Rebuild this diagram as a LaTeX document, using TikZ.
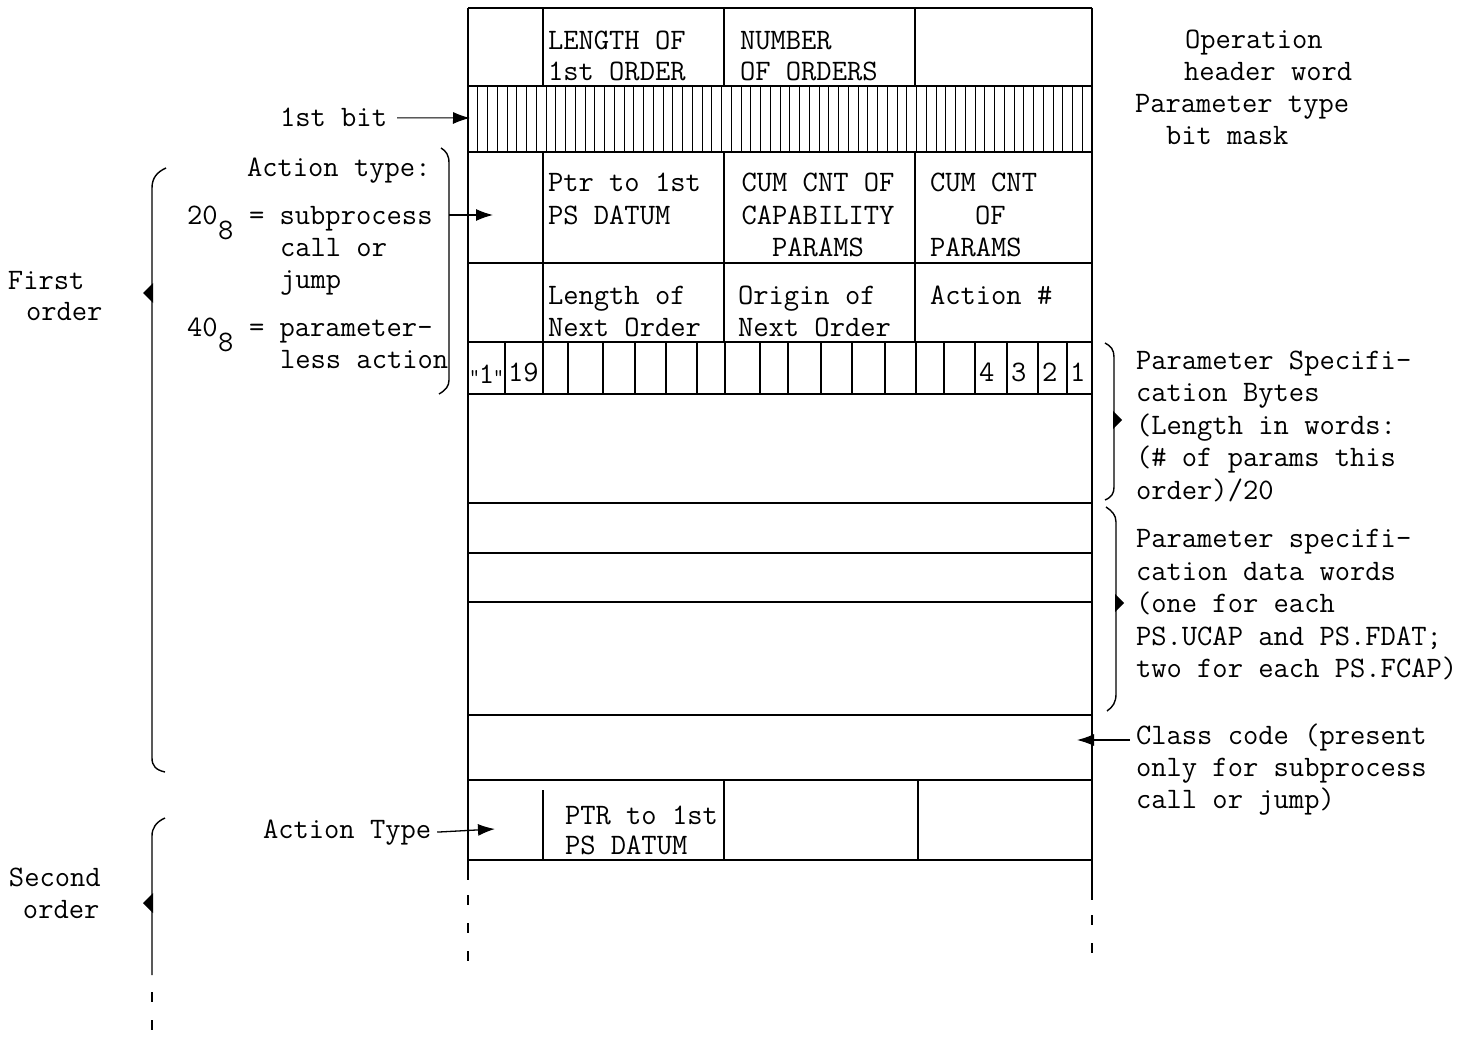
\documentclass[tikz,border=0pt]{standalone}
\usepackage{fontspec}
\usetikzlibrary{arrows.meta}
\begin{document}
\begin{tikzpicture}[x=1pt,y=-1pt,
  every node/.style={inner sep=0pt, outer sep=0pt},
  txt/.style={anchor=base west, font=\ttfamily\fontsize{29.7}{32}\selectfont},
  ctxt/.style={anchor=base, font=\ttfamily\fontsize{29.7}{32}\selectfont},
  rule/.style={line width=1.4pt},
  hair/.style={line width=1pt},
  tip/.style={-{Latex[length=17pt,width=12pt]}, line width=1.3pt},
  dashline/.style={line width=1.3pt, dash pattern=on 10pt off 18pt},
]
\useasboundingbox (0,0) rectangle (1481,1046);

% ---------- table frame ----------
\draw[rule] (468,8) -- (1092,8);
\foreach \yy in {86,152,263,342,394,503,553,602,715,780,860}
  \draw[rule] (468,\yy) -- (1092,\yy);
\draw[rule] (468,8) -- (468,880);
\draw[dashline] (468,895) -- (468,975);
\draw[rule] (1092,8) -- (1092,900);
\draw[dashline] (1092,915) -- (1092,962);

% column dividers
\foreach \xx in {543,724,915} {
  \draw[rule] (\xx,8) -- (\xx,86);
  \draw[rule] (\xx,152) -- (\xx,342);
}
\draw[rule] (543,790) -- (543,860);
\draw[rule] (724,780) -- (724,860);
\draw[rule] (918,780) -- (918,860);

% bit mask
\foreach \i in {1,...,63}
  \draw[hair] ({468+\i*9.75},86) -- ++(0,66);

% byte row
\foreach \xx in {505,543,568,603,635,666,697,725,760,788,821,852,885,916,944,975,1007,1038,1067}
  \draw[rule] (\xx,342) -- (\xx,394);

% ---------- table texts ----------
\node[txt] (h1a) at (548,50) {LENGTH OF};
\node[txt] (h1b) at (548,81) {1st ORDER};
\node[txt] (h2a) at (740,50) {NUMBER};
\node[txt] (h2b) at (740,81) {OF ORDERS};

\node[txt] (r3a) at (548,192) {Ptr to 1st};
\node[txt] (r3b) at (548,224) {PS DATUM};
\node[ctxt] (r3c) at (818,192) {CUM CNT OF};
\node[ctxt] (r3d) at (818,224) {CAPABILITY};
\node[ctxt] (r3e) at (818,256) {PARAMS};
\node[txt] (r3f) at (930,192) {CUM CNT};
\node[txt] (r3g) at (975,224) {OF};
\node[txt] (r3h) at (930,256) {PARAMS};

\node[txt] (r4a) at (548,304) {Length of};
\node[txt] (r4b) at (548,336) {Next Order};
\node[txt] (r4c) at (738,304) {Origin of};
\node[txt] (r4d) at (738,336) {Next Order};
\node[txt] (r4e) at (930,304) {Action \#};

\node[txt] (b20) at (469,383) {{\fontsize{21}{22}\selectfont"}\kern-1pt 1\kern-1pt{\fontsize{21}{22}\selectfont"}};
\node[txt] (b19) at (508,381) {19};
\node[txt] (b4) at (979,381) {4};
\node[txt] (b3) at (1011,381) {3};
\node[txt] (b2) at (1042,381) {2};
\node[txt] (b1) at (1070,381) {1};

\node[txt] (s2a) at (565,824) {PTR to 1st};
\node[txt] (s2b) at (565,854) {PS DATUM};

% ---------- right texts ----------
\node[txt] (op1) at (1185,49) {Operation};
\node[txt] (op2) at (1184,81) {header word};
\node[txt] (op3) at (1135,113) {Parameter type};
\node[txt] (op4) at (1166,145) {bit mask};

\node[txt] (psb1) at (1136,369) {Parameter Specifi-};
\node[txt] (psb2) at (1136,401) {cation Bytes};
\node[txt] (psb3) at (1136,434) {(Length in words:};
\node[txt] (psb4) at (1136,466) {(\# of params this};
\node[txt] (psb5) at (1136,499) {order)/20};

\node[txt] (psd1) at (1136,547) {Parameter specifi-};
\node[txt] (psd2) at (1136,580) {cation data words};
\node[txt] (psd3) at (1136,612) {(one for each};
\node[txt] (psd4) at (1136,645) {PS.UCAP and PS.FDAT;};
\node[txt] (psd5) at (1136,677) {two for each PS.FCAP)};

\node[txt] (cc1) at (1136,744) {Class code (present};
\node[txt] (cc2) at (1136,776) {only for subprocess};
\node[txt] (cc3) at (1136,808) {call or jump)};

% ---------- left texts ----------
\node[txt] (firstbit) at (280,127) {1st bit};
\node[txt] (at0) at (247,177) {Action type:};
\node[txt] (at1n) at (187,224) {20};
\node[txt] (at1s) at (218,239) {8};
\node[txt] (at1) at (249,224) {= subprocess};
\node[txt] (at2) at (280,256) {call or};
\node[txt] (at3) at (280,288) {jump};
\node[txt] (at4n) at (187,336) {40};
\node[txt] (at4s) at (218,351) {8};
\node[txt] (at4) at (249,336) {= parameter-};
\node[txt] (at5) at (280,368) {less action};

\node[txt] (fo1) at (8,289) {First};
\node[txt] (fo2) at (26,320) {order};
\node[txt] (so1) at (9,886) {Second};
\node[txt] (so2) at (23,918) {order};
\node[txt] (atb) at (263,838) {Action Type};

% ---------- braces ----------
% first order
\draw[rule] (166,168) .. controls (157,172) and (152,178) .. (152,188) -- (152,758) .. controls (152,766) and (156,770) .. (165,772);
\fill (153,283) -- (143,293) -- (153,303) -- cycle;
% second order
\draw[rule] (165,818) .. controls (156,822) and (152,828) .. (152,836) -- (152,975);
\draw[dashline] (152,992) -- (152,1046);
\fill (153,893) -- (143,903) -- (153,913) -- cycle;
% action type brace
\draw[rule] (441,148) .. controls (446,151) and (449,155) .. (449,163) -- (449,380) .. controls (449,386) and (446,390) .. (439,394);
% parameter specification bytes brace
\draw[rule] (1105,343) .. controls (1111,346) and (1114,350) .. (1114,357) -- (1114,487) .. controls (1114,493) and (1112,497) .. (1105,500);
\fill (1113,411) -- (1122,420) -- (1113,429) -- cycle;
% parameter specification data words brace
\draw[rule] (1106,507) .. controls (1112,511) and (1116,515) .. (1116,522) -- (1116,694) .. controls (1116,702) and (1113,707) .. (1107,711);
\fill (1115,594) -- (1124,603) -- (1115,612) -- cycle;

% ---------- arrows ----------
\coordinate (bitL) at (470,118);
\coordinate (atbr) at (449,215);
\coordinate (atin) at (493,215);
\coordinate (atbin) at (495,829);
\coordinate (ccstart) at (1130,740);
\coordinate (ccend) at (1077,740);
\draw[tip, line width=1pt] ([xshift=10pt]firstbit.east) -- (bitL);
\draw[tip] (atbr) -- (atin);
\draw[tip] ([xshift=6pt]atb.east) -- (atbin);
\draw[tip] (ccstart) -- (ccend);
\end{tikzpicture}
\end{document}
